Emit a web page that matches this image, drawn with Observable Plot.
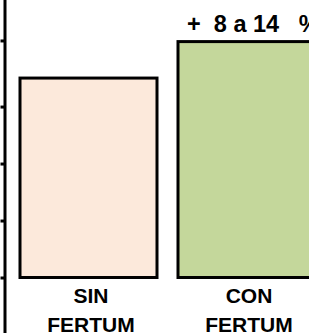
<!DOCTYPE html>
<html><head><meta charset="utf-8">
<script src="https://cdn.jsdelivr.net/npm/d3@7"></script>
<script src="https://cdn.jsdelivr.net/npm/@observablehq/plot@0.6"></script>
<style>
html,body{margin:0;padding:0;background:#fff;overflow:hidden}
</style>
</head><body><div id="chart"></div>
<script>
const categories = ["SIN\nFERTUM", "CON\nFERTUM"];
const values = [3.5, 4.14];
const barColors = ["#FCE9DB", "#C4D79B"];
const yTicks = [0, 1, 2, 3, 4.16];
const annotation = "+\u00a0\u00a08 a 14\u00a0\u00a0\u00a0%";

const data = categories.map((c, i) => ({cat: c, value: values[i], color: barColors[i]}));
const font = "'Liberation Sans', Arial, Helvetica, sans-serif";

const chart = Plot.plot({
  width: 309,
  height: 333,
  marginTop: 0,
  marginLeft: 4.5,
  marginRight: 0,
  marginBottom: 55.5,
  style: {fontFamily: font, background: "#fff", overflow: "visible"},
  x: {domain: categories, range: [19.5, 314.5], paddingInner: 0.133, paddingOuter: 0},
  y: {domain: [0, 4.87], range: [277.5, 0]},
  color: {type: "identity"},
  marks: [
    Plot.frame({anchor: "left", stroke: "#000", strokeWidth: 3, insetBottom: -56}),
    Plot.axisY({anchor: "left", ticks: yTicks, tickSize: 4, tickFormat: () => "", strokeWidth: 3, stroke: "#000", label: null}),
    Plot.barY(data, {x: "cat", y: "value", fill: "color", stroke: "#000", strokeWidth: 3}),
    Plot.axisX({tickSize: 0, tickPadding: 4, dx: 2, fontSize: 21, fontWeight: "bold", lineHeight: 1.38, fill: "#000", label: null}),
    Plot.text([annotation], {x: () => categories[1], y: () => values[1], textAnchor: "start", dx: -60, dy: -10, lineAnchor: "bottom", fontSize: 23.5, fontWeight: "bold", fill: "#000"})
  ]
});
document.getElementById("chart").appendChild(chart);
</script>
</body></html>
